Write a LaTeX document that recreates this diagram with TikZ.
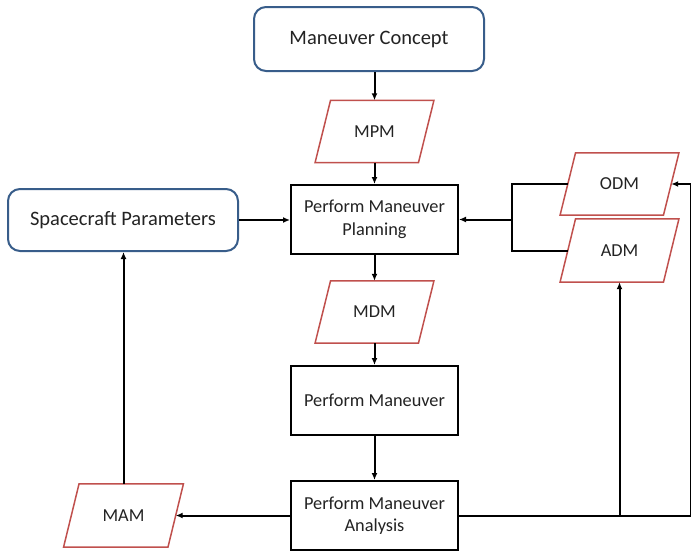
\documentclass[tikz,border=0pt]{standalone}
\usepackage{fontspec}
\setmainfont{Carlito}
\usetikzlibrary{arrows.meta,calc}
\definecolor{termblue}{RGB}{56,93,138}
\definecolor{datared}{RGB}{192,80,77}
\definecolor{inktext}{RGB}{35,35,35}
\begin{document}
\begin{tikzpicture}[x=1pt,y=-1pt,
  every node/.style={text=inktext, inner sep=0pt},
  terminal/.style={draw=termblue, line width=2pt, rounded corners=12pt,
    fill=white, font=\fontsize{20.5}{24}\selectfont},
  process/.style={draw=black, line width=2pt, fill=white, align=center,
    minimum width=167pt, minimum height=69pt,
    font=\fontsize{18.3}{22.5}\selectfont},
  % data blocks: an invisible rectangle whose outline is drawn slanted,
  % so that connectors meet the middle of each edge exactly
  datablock/.style={minimum width=103pt, minimum height=62pt,
    font=\fontsize{18.3}{22.5}\selectfont,
    append after command={
      \pgfextra{\draw[draw=datared, line width=1.5pt, line join=miter]
        ([xshift=-7.75pt]\tikzlastnode.south west) --
        ([xshift=-7.75pt]\tikzlastnode.south east) --
        ([xshift=7.75pt]\tikzlastnode.north east) --
        ([xshift=7.75pt]\tikzlastnode.north west) -- cycle;}}},
  flow/.style={draw=black, line width=2pt, -{Latex[length=7pt,width=6pt]}},
  link/.style={draw=black, line width=2pt}
]
\useasboundingbox (0,0) rectangle (691,552);

% terminals
\node[terminal, minimum width=230pt, minimum height=64pt] (concept) at (369,39) {Maneuver Concept};
\node[terminal, minimum width=230pt, minimum height=62pt] (craft) at (123,220) {Spacecraft Parameters};

% processes
\node[process] (plan) at (374.5,219.5) {Perform Maneuver\\Planning};
\node[process] (exec) at (374.5,400.5) {Perform Maneuver};
\node[process] (anal) at (374.5,515.5) {Perform Maneuver\\Analysis};

% data products
\node[datablock] (mpm) at (374.5,131.5) {MPM};
\node[datablock] (mdm) at (374.5,312) {MDM};
\node[datablock, minimum width=104pt, minimum height=63pt] (mam) at (123.5,515.5) {MAM};
\node[datablock] (odm) at (619.5,184) {ODM};
\node[datablock, minimum height=63pt] (adm) at (619.5,250.5) {ADM};

% helper points
\coordinate (merge) at (512,219.5);
\coordinate (rimbot) at (690.5,515.5);
\coordinate (tap) at (adm.south |- anal.east);

% main chain
\draw[flow] (concept.south -| mpm.north) -- (mpm.north);
\draw[flow] (mpm.south) -- (plan.north);
\draw[flow] (plan.south) -- (mdm.north);
\draw[flow] (mdm.south) -- (exec.north);
\draw[flow] (exec.south) -- (anal.north);

% spacecraft parameters into planning
\draw[flow] (craft.east) -- (craft.east -| plan.west);

% analysis outputs
\draw[flow] (anal.west) -- (mam.east);
\draw[flow] (mam.north) -- (mam.north |- craft.south);
\draw[link] (anal.east) -- (tap);
\draw[flow] (tap) -- (adm.south);
\draw[link] (tap) -- (rimbot);
\draw[flow] (rimbot) -- (rimbot |- odm.east) -- (odm.east);

% orbit and attitude data feed back into planning
\draw[link] (odm.west) -| (merge |- odm.west) -- (merge |- adm.west) -- (adm.west);
\draw[flow] (merge) -- (plan.east);
\end{tikzpicture}
\end{document}
